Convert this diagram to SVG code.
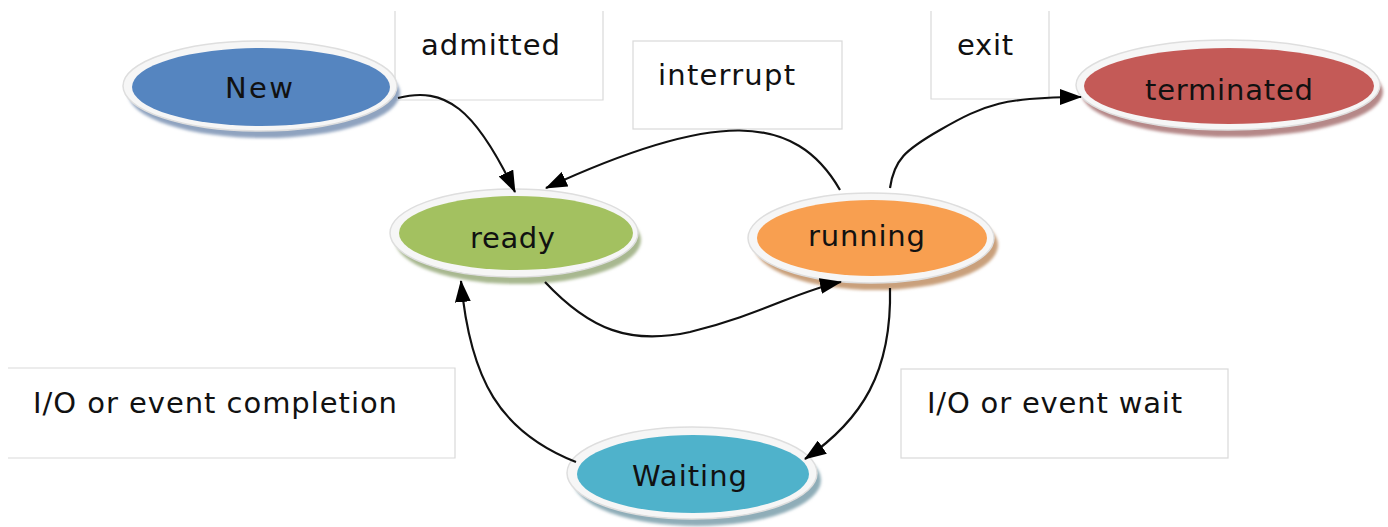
<svg xmlns="http://www.w3.org/2000/svg" width="1388" height="527" viewBox="0 0 1388 527">
<defs>
<style>
.lbl{fill:none;stroke:#d9d9d9;stroke-width:1.2}
.t{font-family:"DejaVu Sans","Liberation Sans",sans-serif;font-size:29px;fill:#111}
.ring{fill:#f6f6f6;stroke:#dedede;stroke-width:1.5}
.edge{fill:none;stroke:#111;stroke-width:2.2}
</style>
<filter id="blur" x="-10%" y="-20%" width="120%" height="140%"><feGaussianBlur stdDeviation="1.8"/></filter>
<marker id="ah" viewBox="0 0 22 16" refX="21" refY="8" markerWidth="22" markerHeight="16" markerUnits="userSpaceOnUse" orient="auto"><path d="M0,0 L22,8 L0,16 Z" fill="#000"/></marker>
</defs>
<rect width="1388" height="527" fill="#fff"/>

<g id="label-admitted"><path class="lbl" d="M395,11 V100 H603 V11"/><text class="t" x="421" y="55" textLength="139" lengthAdjust="spacing">admitted</text></g>
<g id="label-interrupt"><rect class="lbl" x="633" y="41" width="209" height="88"/><text class="t" x="658" y="85" textLength="137" lengthAdjust="spacing">interrupt</text></g>
<g id="label-exit"><path class="lbl" d="M931,11 V99 H1049 V11"/><text class="t" x="957" y="55" textLength="56" lengthAdjust="spacing">exit</text></g>
<g id="label-completion"><path class="lbl" d="M8,368 H455 V458 H8"/><text class="t" x="33" y="413" textLength="364" lengthAdjust="spacing">I/O or event completion</text></g>
<g id="label-wait"><rect class="lbl" x="901" y="369" width="327" height="89"/><text class="t" x="927" y="413" textLength="255" lengthAdjust="spacing">I/O or event wait</text></g>

<g id="node-new">
<ellipse cx="264" cy="93" rx="136" ry="45" fill="#8fa3bf" filter="url(#blur)"/>
<ellipse class="ring" cx="260" cy="86" rx="137" ry="45"/>
<ellipse cx="261" cy="87" rx="129" ry="39" fill="#5585c0"/>
<text class="t" x="225" y="98" textLength="68" lengthAdjust="spacing">New</text>
</g>
<g id="node-ready">
<ellipse cx="518" cy="240" rx="123" ry="44" fill="#a8b890" filter="url(#blur)"/>
<ellipse class="ring" cx="514" cy="233" rx="124" ry="44"/>
<ellipse cx="516" cy="233" rx="117" ry="37" fill="#a3c160"/>
<text class="t" x="470" y="248" textLength="85" lengthAdjust="spacing">ready</text>
</g>
<g id="node-running">
<ellipse cx="876" cy="245" rx="122" ry="45" fill="#c9a07c" filter="url(#blur)"/>
<ellipse class="ring" cx="871" cy="238" rx="123" ry="45"/>
<ellipse cx="872" cy="238" rx="115" ry="38" fill="#f89f50"/>
<text class="t" x="808" y="246" textLength="117" lengthAdjust="spacing">running</text>
</g>
<g id="node-terminated">
<ellipse cx="1232" cy="92" rx="151" ry="45" fill="#b58888" filter="url(#blur)"/>
<ellipse class="ring" cx="1228" cy="85" rx="152" ry="45"/>
<ellipse cx="1229" cy="86" rx="145" ry="38" fill="#c45a57"/>
<text class="t" x="1145" y="100" textLength="168" lengthAdjust="spacing">terminated</text>
</g>
<g id="node-waiting">
<ellipse cx="697" cy="480" rx="124" ry="46" fill="#8fadb8" filter="url(#blur)"/>
<ellipse class="ring" cx="692" cy="473" rx="125" ry="46"/>
<ellipse cx="693" cy="474" rx="116" ry="39" fill="#4fb2cb"/>
<text class="t" x="632" y="486" textLength="115" lengthAdjust="spacing">Waiting</text>
</g>

<g id="connectors">
<path class="edge" marker-end="url(#ah)" d="M398,98 C445,86 475,108 515,192"/>
<path class="edge" marker-end="url(#ah)" d="M840,190 C795,112 715,110 546,188"/>
<path class="edge" marker-end="url(#ah)" d="M890,188 C894,160 905,150 940,130 C985,104 1005,97 1081,97"/>
<path class="edge" marker-end="url(#ah)" d="M545,282 C590,330 630,345 690,332 C760,315 800,290 841,282"/>
<path class="edge" marker-end="url(#ah)" d="M890,288 C892,372 862,420 805,459"/>
<path class="edge" marker-end="url(#ah)" d="M576,462 C500,432 470,380 461,281"/>
</g>
</svg>
